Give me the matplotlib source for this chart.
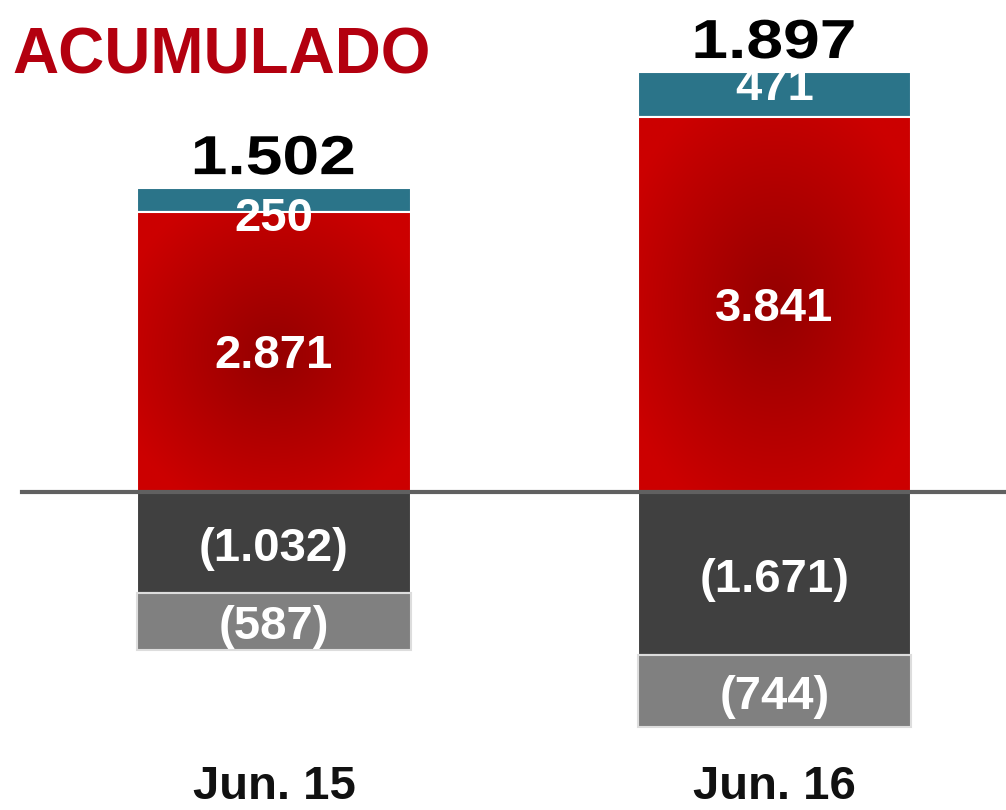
import matplotlib.pyplot as plt
import matplotlib.patches as mpatches
from matplotlib.textpath import TextPath
from matplotlib.font_manager import FontProperties
from matplotlib.transforms import Affine2D
import numpy as np

plt.rcParams.update({
    'font.family': ['Liberation Sans', 'DejaVu Sans'],
    'font.weight': 'bold',
})

# ========== Data ==========
periods = ['Jun. 15', 'Jun. 16']
red_vals = [2871, 3841]
teal_vals = [250, 471]
dark_vals = [-1032, -1671]
light_vals = [-587, -744]
totals = ['1.502', '1.897']
red_labels = ['2.871', '3.841']
teal_labels = ['250', '471']
dark_labels = ['(1.032)', '(1.671)']
light_labels = ['(587)', '(744)']

# ========== Style ==========
teal_color = '#2b7489'
dark_color = '#404040'
light_color = '#808080'
title_color = '#b3000f'

fig = plt.figure(figsize=(10.06, 8.10), dpi=100)
ax = fig.add_axes([0, 0, 1, 1])
ax.set_xlim(-0.5475, 1.4625)
ax.set_ylim(-3262, 5046)
ax.axis('off')

x = np.arange(len(periods))
w = 0.547

# radial gradient for the red segments
gy, gx = np.mgrid[-1:1:200j, -1:1:200j]
r = np.clip(np.sqrt(gx ** 2 + gy ** 2) / 1.2, 0, 1)
c_in = np.array([0.58, 0.0, 0.0])
c_out = np.array([0.80, 0.0, 0.0])
grad = c_in[None, None, :] * (1 - r[..., None]) + c_out[None, None, :] * r[..., None]


def stretched_text(s, xd, yd, size_px, sx, color, dy_px):
    # bold text widened horizontally, bottom of ink placed dy_px above (xd, yd)
    tp = TextPath((0, 0), s, size=size_px,
                  prop=FontProperties(family='Liberation Sans', weight='bold'))
    bb = tp.get_extents()
    px, py = ax.transData.transform((xd, yd))
    tr = (Affine2D().translate(-(bb.x0 + bb.x1) / 2, -bb.y0)
          .scale(sx, 1).translate(px, py + dy_px))
    ax.add_patch(mpatches.PathPatch(tp, transform=tr, facecolor=color,
                                    edgecolor='none', zorder=4))


for i in range(len(periods)):
    red_bar = ax.bar(x[i], red_vals[i], w, color='#cc0000', edgecolor='white',
                     linewidth=1.5, zorder=2)[0]
    im = ax.imshow(grad, extent=[x[i] - w / 2, x[i] + w / 2, 0, red_vals[i]],
                   aspect='auto', zorder=2.1)
    im.set_clip_path(red_bar)
    ax.add_patch(mpatches.Rectangle((x[i] - w / 2, 0), w, red_vals[i], fill=False,
                                    edgecolor='white', linewidth=1.5, zorder=2.2))
    ax.bar(x[i], teal_vals[i], w, bottom=red_vals[i], color=teal_color,
           edgecolor='white', linewidth=1.5, zorder=2)
    ax.bar(x[i], dark_vals[i], w, color=dark_color, edgecolor='white',
           linewidth=1.5, zorder=2)
    ax.bar(x[i], light_vals[i], w, bottom=dark_vals[i], color=light_color,
           edgecolor='#dddddd', linewidth=1.5, zorder=2)

ax.set_xlim(-0.5475, 1.4625)
ax.set_ylim(-3262, 5046)

ax.axhline(0, xmin=22 / 1006, xmax=1, color='#606060', linewidth=3, zorder=3)

lbl_kw = dict(ha='center', va='center', color='white', fontsize=34, zorder=4,
              textcoords='offset points')
teal_offsets = [-14, 5]
for i in range(len(periods)):
    ax.annotate(red_labels[i], (x[i], red_vals[i] / 2), xytext=(0, -3), **lbl_kw)
    ax.annotate(teal_labels[i], (x[i], red_vals[i] + teal_vals[i] / 2),
                xytext=(0, teal_offsets[i]), **lbl_kw)
    ax.annotate(dark_labels[i], (x[i], dark_vals[i] / 2), xytext=(0, -4.5), **lbl_kw)
    ax.annotate(light_labels[i], (x[i], dark_vals[i] + light_vals[i] / 2),
                xytext=(0, -4.5), **lbl_kw)
    stretched_text(totals[i], x[i], red_vals[i] + teal_vals[i], 55, 1.2,
                   'black', 13)
    ax.text(x[i], -3145, periods[i], ha='center', va='baseline',
            color='#111111', fontsize=34)

fig.text(12 / 1006, 1 - 73 / 810, 'ACUMULADO', ha='left', va='baseline',
         color=title_color, fontsize=46, fontweight='bold')

fig.savefig('out.png', dpi=100)
